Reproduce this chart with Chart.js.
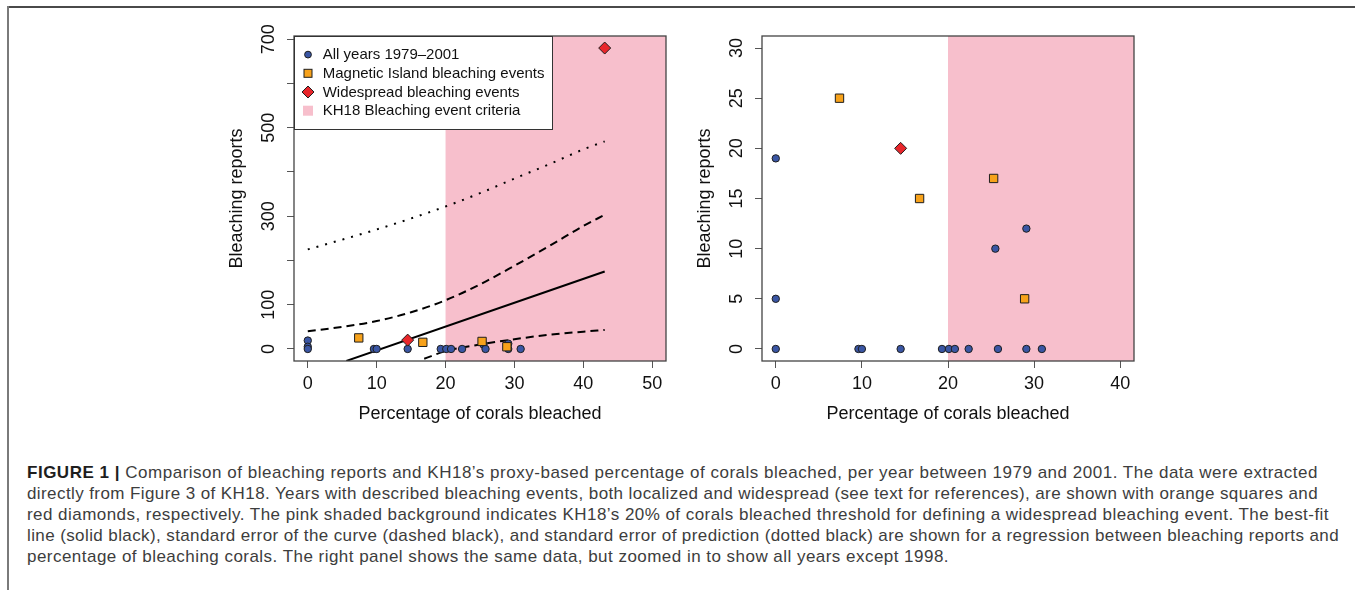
<!DOCTYPE html>
<html>
<head>
<meta charset="utf-8">
<script src="https://cdn.jsdelivr.net/npm/chart.js@4.4.1/dist/chart.umd.min.js"></script>
<style>
  body { margin: 0; width: 1355px; height: 590px; background: #fff; position: relative; overflow: hidden;
         font-family: "Liberation Sans", Arial, sans-serif; }
  #frameTop { position: absolute; left: 7px; top: 6px; width: 1348px; height: 2px; background: #4a4a4a; }
  #frameLeft { position: absolute; left: 7px; top: 6px; width: 2px; height: 584px; background: #7a7a7a; }
  canvas { position: absolute; top: 0; }
  #caption { position: absolute; left: 27px; top: 462px; font-size: 17px; line-height: 21px; color: #3d3d3d;
             white-space: nowrap; }
  #caption span { display: inline-block; }
  #caption b { color: #1e1e1e; }
</style>
</head>
<body>
<div id="frameTop"></div>
<div id="frameLeft"></div>
<canvas id="leftChart" width="470" height="440" style="left:210px"></canvas>
<canvas id="rightChart" width="470" height="440" style="left:678px"></canvas>
<div id="caption">
<span data-w="1291"><b>FIGURE 1 |</b> Comparison of bleaching reports and KH18’s proxy-based percentage of corals bleached, per year between 1979 and 2001. The data were extracted</span><br>
<span data-w="1291">directly from Figure 3 of KH18. Years with described bleaching events, both localized and widespread (see text for references), are shown with orange squares and</span><br>
<span data-w="1302">red diamonds, respectively. The pink shaded background indicates KH18’s 20% of corals bleached threshold for defining a widespread bleaching event. The best-fit</span><br>
<span data-w="1312">line (solid black), standard error of the curve (dashed black), and standard error of prediction (dotted black) are shown for a regression between bleaching reports and</span><br>
<span data-w="922">percentage of bleaching corals. The right panel shows the same data, but zoomed in to show all years except 1998.</span>
</div>
<script>
// percentage of corals bleached (x) vs bleaching reports (y), 1979-2001
const allYearsX = [0, 0, 0, 9.6, 10.0, 14.5, 19.3, 20.1, 20.8, 22.4, 25.5, 25.8, 29.1, 29.1, 30.9];
const allYearsY = [19, 5, 0, 0, 0, 0, 0, 0, 0, 0, 10, 0, 12, 0, 0];

const magneticX = [7.4, 16.7, 25.3, 28.9];
const magneticY = [25, 15, 17, 5];

const widespreadX = [14.5, 43.1];
const widespreadY = [20, 680];

// regression lines
const fitX = [5.6, 43.1];
const fitY = [-27, 175];
const seUpperX = [0, 5, 10, 15, 20, 25, 30, 35, 40, 43.1];
const seUpperY = [40, 50, 63, 83, 110, 146, 188, 232, 278, 303];
const seLowerX = [16.9, 20, 25, 30, 35, 40, 43.1];
const seLowerY = [-22, -5, 10, 22, 32, 39, 43];
const predUpperX = [0, 5, 10, 15, 20, 25, 30, 35, 40, 43.1];
const predUpperY = [225, 247, 270, 295, 322, 352, 385, 417, 451, 469];

const thresholdPct = 20;

const leftXTicks = [0, 10, 20, 30, 40, 50];
const leftYTicks = [0, 100, 200, 300, 400, 500, 600, 700];
const leftYLabels = [0, 100, 300, 500, 700];
const rightXTicks = [0, 10, 20, 30, 40];
const rightYTicks = [0, 5, 10, 15, 20, 25, 30];
const rightYLabels = [0, 5, 10, 15, 20, 25, 30];

const FONT = '"Liberation Sans", Arial, sans-serif';
const BLUE = '#3a56a4', ORANGE = '#f7a21b', RED = '#e8262b', PINK = '#f7bfcc', EDGE = '#1e1e1e';

// stretch caption lines to the widths of the printed figure
document.querySelectorAll('#caption span').forEach(sp => {
  const target = +sp.dataset.w;
  const n = sp.textContent.length;
  sp.style.letterSpacing = ((target - sp.getBoundingClientRect().width) / n) + 'px';
});

function pts(xs, ys) {
  return xs.map((x, i) => ({ x: x, y: ys[i] }));
}

// pink area for KH18 criterion (>= 20 %)
const thresholdShade = {
  id: 'thresholdShade',
  beforeDatasetsDraw(chart) {
    const { ctx, chartArea, scales } = chart;
    const x0 = scales.x.getPixelForValue(thresholdPct);
    ctx.save();
    ctx.fillStyle = PINK;
    ctx.fillRect(x0, chartArea.top, chartArea.right - x0, chartArea.bottom - chartArea.top);
    ctx.restore();
  }
};

// R style box and vertical y tick labels
const frameAndLabels = {
  id: 'frameAndLabels',
  afterDraw(chart) {
    const { ctx, chartArea, scales } = chart;
    ctx.save();
    ctx.strokeStyle = '#444';
    ctx.lineWidth = 1.3;
    ctx.strokeRect(chartArea.left, chartArea.top, chartArea.right - chartArea.left, chartArea.bottom - chartArea.top);
    ctx.fillStyle = '#111';
    ctx.font = '18px ' + FONT;
    ctx.textAlign = 'center';
    ctx.textBaseline = 'middle';
    chart.options.yLabels.forEach(v => {
      const y = scales.y.getPixelForValue(v);
      ctx.save();
      ctx.translate(chartArea.left - 25, y);
      ctx.rotate(-Math.PI / 2);
      ctx.fillText(String(v), 0, 0);
      ctx.restore();
    });
    ctx.restore();
  }
};

const legendEntries = ['All years 1979\u20132001', 'Magnetic Island bleaching events',
                       'Widespread bleaching events', 'KH18 Bleaching event criteria'];

const legendBox = {
  id: 'legendBox',
  afterDraw(chart) {
    if (!chart.options.showLegendBox) return;
    const { ctx, chartArea } = chart;
    const left = chartArea.left, top = chartArea.top;
    ctx.save();
    ctx.fillStyle = '#fff';
    ctx.fillRect(left, top, 258, 93);
    ctx.strokeStyle = '#333';
    ctx.lineWidth = 1;
    ctx.strokeRect(left + 0.5, top + 0.5, 258, 93);
    ctx.font = '15px ' + FONT;
    ctx.textBaseline = 'middle';
    ctx.textAlign = 'left';
    legendEntries.forEach((txt, i) => {
      const y = top + 18.6 + i * 18.7;
      const sx = left + 14;
      ctx.lineWidth = 1;
      ctx.strokeStyle = EDGE;
      if (i === 0) {
        ctx.beginPath(); ctx.arc(sx, y, 3.4, 0, Math.PI * 2);
        ctx.fillStyle = BLUE; ctx.fill(); ctx.stroke();
      } else if (i === 1) {
        ctx.fillStyle = ORANGE; ctx.fillRect(sx - 4, y - 4, 8, 8); ctx.strokeRect(sx - 4, y - 4, 8, 8);
      } else if (i === 2) {
        ctx.beginPath(); ctx.moveTo(sx - 6, y); ctx.lineTo(sx, y - 6); ctx.lineTo(sx + 6, y); ctx.lineTo(sx, y + 6);
        ctx.closePath(); ctx.fillStyle = RED; ctx.fill(); ctx.stroke();
      } else {
        ctx.fillStyle = PINK; ctx.fillRect(sx - 5, y - 5, 10, 10);
      }
      ctx.fillStyle = '#111';
      ctx.fillText(txt, left + 28.7, y + 0.5);
    });
    ctx.restore();
  }
};

function makeChart(id, cfg) {
  const datasets = [
    { label: 'widespread', data: pts(cfg.wX, cfg.wY), pointStyle: 'rectRot', pointRadius: 6,
      backgroundColor: RED, borderColor: EDGE, borderWidth: 1, order: 1 },
    { label: 'magnetic', data: pts(magneticX, magneticY), pointStyle: 'rect', pointRadius: 5.9,
      backgroundColor: ORANGE, borderColor: EDGE, borderWidth: 1, order: 2 },
    { label: 'all', data: pts(allYearsX, allYearsY), pointStyle: 'circle', pointRadius: 3.7,
      backgroundColor: BLUE, borderColor: EDGE, borderWidth: 1, order: 3 }
  ];
  if (cfg.lines) {
    const lineBase = { type: 'line', showLine: true, pointRadius: 0, borderColor: '#000', borderWidth: 2,
                       fill: false, cubicInterpolationMode: 'monotone', order: 4 };
    datasets.push(Object.assign({}, lineBase, { label: 'fit', data: pts(fitX, fitY) }));
    datasets.push(Object.assign({}, lineBase, { label: 'se up', data: pts(seUpperX, seUpperY), borderDash: [8, 5] }));
    datasets.push(Object.assign({}, lineBase, { label: 'se low', data: pts(seLowerX, seLowerY), borderDash: [8, 5] }));
    datasets.push(Object.assign({}, lineBase, { label: 'pred up', data: pts(predUpperX, predUpperY),
                                                borderDash: [2, 7], borderCapStyle: 'butt' }));
  }

  return new Chart(document.getElementById(id), {
    type: 'scatter',
    data: { datasets: datasets },
    plugins: [thresholdShade, frameAndLabels, legendBox],
    options: {
      responsive: false,
      animation: false,
      yLabels: cfg.yLabels,
      showLegendBox: cfg.legend,
      layout: { padding: { top: 36, right: 14, left: 0, bottom: 0 } },
      plugins: { legend: { display: false }, tooltip: { enabled: false } },
      scales: {
        x: {
          type: 'linear', min: cfg.xMin, max: cfg.xMax,
          afterBuildTicks: s => { s.ticks = cfg.xTicks.map(v => ({ value: v })); },
          afterFit: s => { s.height = 79; },
          grid: { drawOnChartArea: false, drawTicks: true, tickLength: 7, color: '#555', lineWidth: 1 },
          border: { display: false },
          ticks: { autoSkip: false, maxRotation: 0, minRotation: 0, padding: 5, color: '#111',
                   font: { size: 18, family: FONT } },
          title: { display: true, text: 'Percentage of corals bleached', color: '#111',
                   font: { size: 18, family: FONT }, padding: { top: 0, bottom: 15 } }
        },
        y: {
          type: 'linear', min: cfg.yMin, max: cfg.yMax,
          afterBuildTicks: s => { s.ticks = cfg.yTicks.map(v => ({ value: v })); },
          afterFit: s => { s.width = 84; },
          grid: { drawOnChartArea: false, drawTicks: true, tickLength: 7, color: '#555', lineWidth: 1 },
          border: { display: false },
          ticks: { color: 'rgba(0,0,0,0)', font: { size: 18, family: FONT } },
          title: { display: true, text: 'Bleaching reports', color: '#111',
                   font: { size: 18, family: FONT }, padding: { top: 16, bottom: 0 } }
        }
      }
    }
  });
}

makeChart('leftChart', {
  wX: widespreadX, wY: widespreadY, lines: true, legend: true,
  xMin: -2, xMax: 52, yMin: -27.2, yMax: 707.2,
  xTicks: leftXTicks, yTicks: leftYTicks, yLabels: leftYLabels
});

// right panel: same data without 1998
const rightWX = widespreadX.filter((x, i) => widespreadY[i] <= 30);
const rightWY = widespreadY.filter(y => y <= 30);
makeChart('rightChart', {
  wX: rightWX, wY: rightWY, lines: false, legend: false,
  xMin: -1.6, xMax: 41.6, yMin: -1.2, yMax: 31.2,
  xTicks: rightXTicks, yTicks: rightYTicks, yLabels: rightYLabels
});
</script>
</body>
</html>
